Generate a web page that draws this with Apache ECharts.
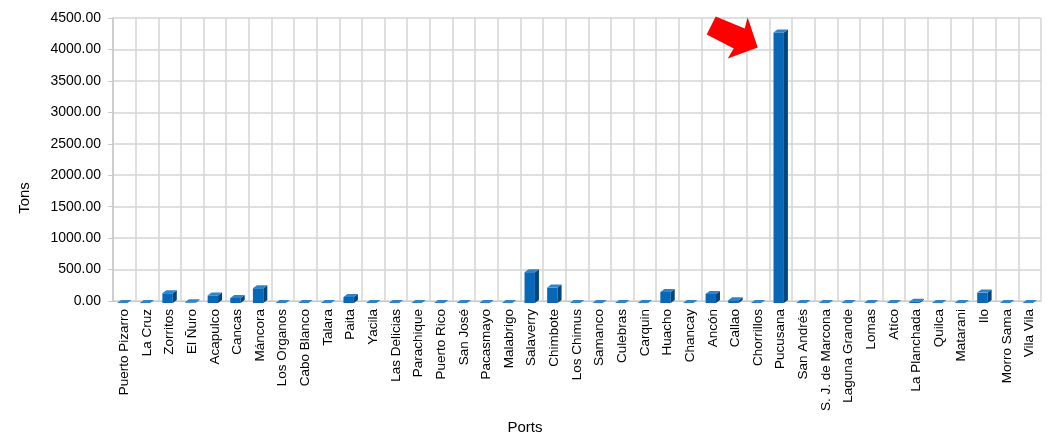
<!DOCTYPE html>
<html>
<head>
<meta charset="utf-8">
<script src="https://cdn.jsdelivr.net/npm/echarts@6/dist/echarts.min.js"></script>
<style>
  html, body { margin: 0; padding: 0; background: #fff; }
  #chart { width: 1062px; height: 438px; }
</style>
</head>
<body>
<div id="chart"></div>
<script>
// Landings per port, in tons
const ports = [
  'Puerto Pizarro', 'La Cruz', 'Zorritos', 'El Ñuro', 'Acapulco', 'Cancas', 'Máncora',
  'Los Organos', 'Cabo Blanco', 'Talara', 'Paita', 'Yacila', 'Las Delicias', 'Parachique',
  'Puerto Rico', 'San José', 'Pacasmayo', 'Malabrigo', 'Salaverry', 'Chimbote', 'Los Chimus',
  'Samanco', 'Culebras', 'Carquin', 'Huacho', 'Chancay', 'Ancón', 'Callao', 'Chorrillos',
  'Pucusana', 'San Andrés', 'S. J. de Marcona', 'Laguna Grande', 'Lomas', 'Atíco',
  'La Planchada', 'Quilca', 'Matarani', 'Ilo', 'Morro Sama', 'Vila Vila'
];
const tons = [
  0, 0, 155, 10, 120, 80, 235,
  0, 0, 0, 95, 0, 0, 0,
  0, 0, 0, 0, 490, 245, 0,
  0, 0, 0, 175, 0, 145, 45, 0,
  4300, 0, 0, 0, 0, 0,
  20, 0, 0, 165, 0, 0
];
const highlightPort = 'Pucusana';
const xTitle = 'Ports';
const yTitle = 'Tons';

const chart = echarts.init(document.getElementById('chart'));
const FONT = 'Liberation Sans, Arial, sans-serif';

// Bars with a small extruded depth: front face, right side and top face
function renderBar(params, api) {
  const idx = api.value(0);
  const val = api.value(1);
  const base = api.coord([idx, 0]);
  const top = api.coord([idx, val]);
  const w = api.size([1, 0])[0] * 0.46;
  const dx = 4, dy = 3;
  const l = base[0] - w / 2 - 2;
  const r = l + w;
  const yb = base[1] + 2;
  const yt = Math.min(top[1] + 2, yb);
  return {
    type: 'group',
    children: [
      { type: 'rect', shape: { x: l, y: yt, width: w, height: yb - yt },
        style: { fill: '#0868b8' } },
      { type: 'polygon', shape: { points: [[r, yt], [r + dx, yt - dy], [r + dx, yb - dy], [r, yb]] },
        style: { fill: '#04457d' } },
      { type: 'polygon', shape: { points: [[l, yt], [l + dx, yt - dy], [r + dx, yt - dy], [r, yt]] },
        style: { fill: '#2a84cf' } }
    ]
  };
}

chart.setOption({
  animation: false,
  backgroundColor: '#ffffff',
  grid: { left: 113, right: 21, top: 18, bottom: 137, containLabel: false },
  xAxis: {
    type: 'category',
    data: ports,
    axisLine: { show: true, lineStyle: { color: '#c8c8c8', width: 1 } },
    axisTick: { show: false },
    splitLine: { show: true, interval: 0, lineStyle: { color: '#d4d4d4', width: 1.5 } },
    axisLabel: { interval: 0, rotate: 90, fontFamily: FONT, fontSize: 13.5, color: '#000', margin: 8 }
  },
  yAxis: {
    type: 'value',
    min: 0,
    max: 4500,
    interval: 500,
    axisLine: { show: true, lineStyle: { color: '#c8c8c8', width: 1.5 } },
    axisTick: { show: true, length: 5, lineStyle: { color: '#c8c8c8' } },
    splitLine: { show: true, lineStyle: { color: '#d4d4d4', width: 1.5 } },
    axisLabel: {
      fontFamily: FONT, fontSize: 14, color: '#000', margin: 12,
      formatter: v => v.toFixed(2)
    }
  },
  series: [{
    type: 'custom',
    renderItem: renderBar,
    encode: { x: 0, y: 1 },
    data: tons.map((v, i) => [i, v]),
    z: 3
  }]
});

// Red arrow pointing at the highlighted port's bar
const hi = ports.indexOf(highlightPort);
const p = chart.convertToPixel({ gridIndex: 0 }, [hi, tons[hi]]);
const tipX = p[0] - 23, tipY = p[1] + 17;
const arrow = [
  [-42, -31], [-13, -19], [-10, -30], [0, 0], [-30, 11], [-24, 1], [-51, -13]
].map(([dx, dy]) => [tipX + dx, tipY + dy]);

chart.setOption({
  graphic: [
    {
      type: 'polygon',
      shape: { points: arrow },
      style: { fill: '#ff0000' },
      z: 10
    },
    {
      type: 'text',
      x: 25, y: 198,
      rotation: Math.PI / 2,
      style: {
        text: yTitle, fontFamily: FONT, fontSize: 15, fill: '#000',
        align: 'center', verticalAlign: 'middle'
      }
    },
    {
      type: 'text',
      x: 525, y: 428,
      style: {
        text: xTitle, fontFamily: FONT, fontSize: 15, fill: '#000',
        align: 'center', verticalAlign: 'middle'
      }
    }
  ]
});
</script>
</body>
</html>
